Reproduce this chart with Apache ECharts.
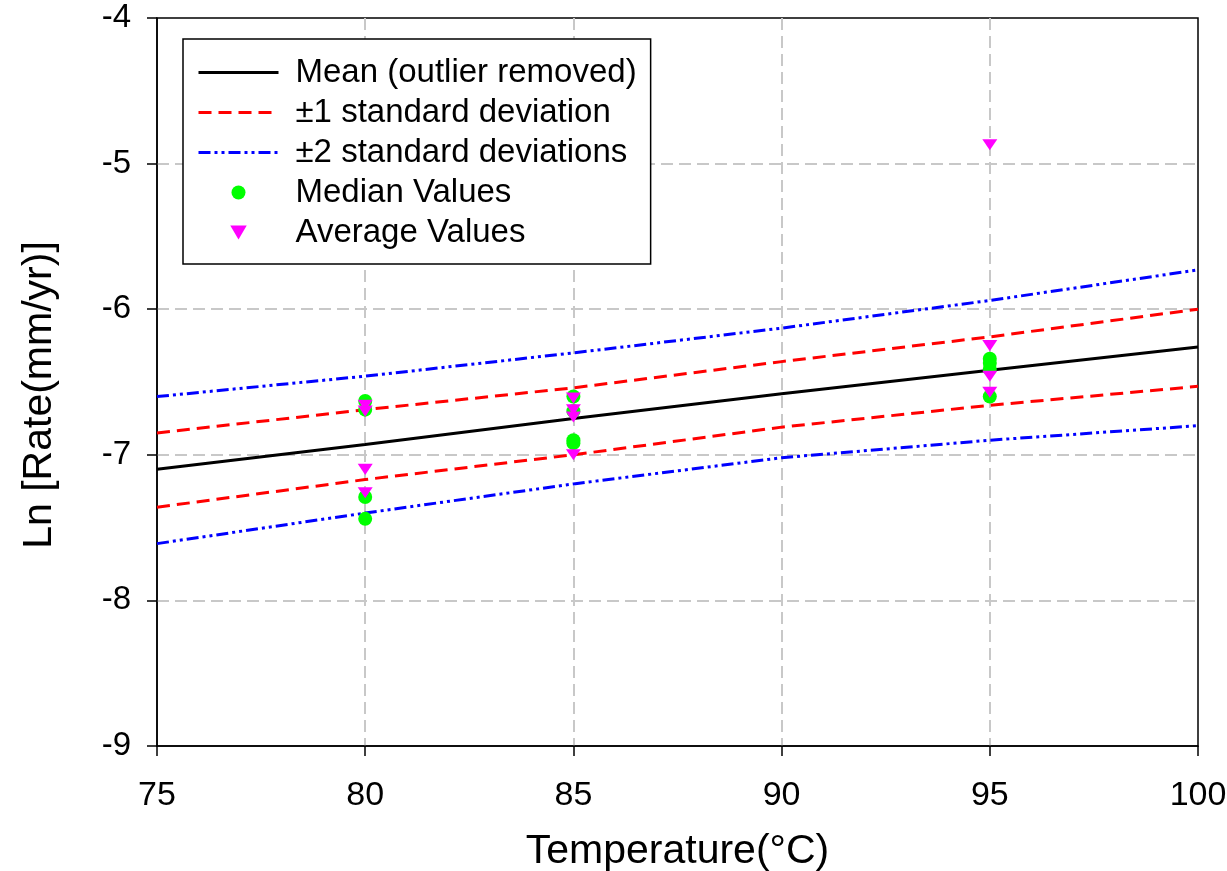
<!DOCTYPE html>
<html>
<head>
<meta charset="utf-8">
<script src="https://cdn.jsdelivr.net/npm/echarts@6/dist/echarts.min.js"></script>
<style>
html,body{margin:0;padding:0;background:#fff;}
#chart{width:1227px;height:871px;}
</style>
</head>
<body>
<div id="chart"></div>
<script>
// Fitted curves
const lineTemps = [75, 80, 85, 90, 95, 100];
const meanVals   = [-7.10, -6.93, -6.75, -6.58, -6.42, -6.26];
const plus1Vals  = [-6.85, -6.69, -6.54, -6.36, -6.19, -6.00];
const minus1Vals = [-7.36, -7.17, -7.00, -6.81, -6.66, -6.53];
const plus2Vals  = [-6.60, -6.46, -6.30, -6.13, -5.94, -5.73];
const minus2Vals = [-7.61, -7.40, -7.20, -7.02, -6.90, -6.80];

// Scatter points
const medianTemps = [80, 80, 80, 80, 85, 85, 85, 85, 95, 95, 95, 95];
const medianVals  = [-6.63, -6.69, -7.29, -7.44, -6.60, -6.70, -6.90, -6.92, -6.34, -6.37, -6.41, -6.60];
const averageTemps = [80, 80, 80, 80, 85, 85, 85, 85, 95, 95, 95, 95];
const averageVals  = [-6.66, -6.70, -7.10, -7.26, -6.61, -6.69, -6.74, -7.00, -4.87, -6.25, -6.46, -6.57];

// Axis ticks
const xTicks = [75, 80, 85, 90, 95, 100];
const yTicks = [-9, -8, -7, -6, -5, -4];

const legendNames = ['Mean (outlier removed)', '±1 standard deviation', '±2 standard deviations', 'Median Values', 'Average Values'];

const FONT = '"Liberation Sans", Arial, Helvetica, sans-serif';
const pair = (xs, ys) => xs.map((x, i) => [x, ys[i]]);
const downTri = 'path://M0,0L20,0L10,17Z';

const lineSeries = (name, vals, color, type) => ({
  name: name,
  type: 'line',
  data: pair(lineTemps, vals),
  symbol: 'none',
  showSymbol: false,
  smooth: false,
  lineStyle: { color: color, width: 3, type: type },
  itemStyle: { color: color },
  z: 2
});

const chart = echarts.init(document.getElementById('chart'), null, { renderer: 'canvas' });
chart.setOption({
  animation: false,
  backgroundColor: '#fff',
  grid: {
    left: 157, right: 29, top: 18, bottom: 125,
    outerBoundsMode: 'none',
    containLabel: false,
    show: true, borderColor: '#000', borderWidth: 1.5, backgroundColor: 'transparent'
  },
  legend: {
    orient: 'vertical',
    left: 183, top: 39,
    padding: [17, 14, 15, 14],
    itemGap: 7,
    itemWidth: 80,
    itemHeight: 14,
    borderColor: '#000',
    borderWidth: 1.5,
    backgroundColor: '#fff',
    symbolKeepAspect: true,
    lineStyle: { width: 3 },
    textStyle: { fontFamily: FONT, fontSize: 33, color: '#000', lineHeight: 32, padding: [0, 0, 0, 12] },
    data: [
      { name: legendNames[0], itemStyle: { opacity: 0 } },
      { name: legendNames[1], itemStyle: { opacity: 0 } },
      { name: legendNames[2], itemStyle: { opacity: 0 } },
      { name: legendNames[3] },
      { name: legendNames[4] }
    ]
  },
  xAxis: {
    type: 'value', min: xTicks[0], max: xTicks[xTicks.length - 1], interval: 5,
    name: 'Temperature(°C)', nameLocation: 'middle', nameGap: 85,
    nameTextStyle: { fontFamily: FONT, fontSize: 41, color: '#000' },
    axisLine: { show: true, lineStyle: { color: '#000', width: 1.5 } },
    axisTick: { show: true, inside: false, length: 10, lineStyle: { color: '#000', width: 1.5 } },
    axisLabel: { fontFamily: FONT, fontSize: 34, color: '#000', margin: 33 },
    splitLine: { show: true, showMinLine: false, showMaxLine: false, lineStyle: { color: '#c8c8c8', width: 2, type: [12, 6] } }
  },
  yAxis: {
    type: 'value', min: yTicks[0], max: yTicks[yTicks.length - 1], interval: 1,
    name: 'Ln [Rate(mm/yr)]', nameLocation: 'middle', nameGap: 97,
    nameTextStyle: { fontFamily: FONT, fontSize: 41, color: '#000', padding: [0, 26, 0, 0] },
    axisLine: { show: true, lineStyle: { color: '#000', width: 1.5 } },
    axisTick: { show: true, inside: false, length: 10, lineStyle: { color: '#000', width: 1.5 } },
    axisLabel: { fontFamily: FONT, fontSize: 33, color: '#000', margin: 26 },
    splitLine: { show: true, showMinLine: false, showMaxLine: false, lineStyle: { color: '#c8c8c8', width: 2, type: [12, 6] } }
  },
  series: [
    lineSeries(legendNames[0], meanVals, '#000000', 'solid'),
    lineSeries(legendNames[1], plus1Vals, '#ff0000', [13, 7]),
    lineSeries(legendNames[1], minus1Vals, '#ff0000', [13, 7]),
    lineSeries(legendNames[2], plus2Vals, '#0000ff', [12, 4, 3, 4, 3, 4]),
    lineSeries(legendNames[2], minus2Vals, '#0000ff', [12, 4, 3, 4, 3, 4]),
    {
      name: legendNames[3], type: 'scatter',
      data: pair(medianTemps, medianVals),
      symbol: 'circle', symbolSize: 14,
      itemStyle: { color: '#00ff00', opacity: 1 },
      z: 3
    },
    {
      name: legendNames[4], type: 'scatter',
      data: pair(averageTemps, averageVals),
      symbol: downTri, symbolSize: [15, 13], symbolKeepAspect: true,
      itemStyle: { color: '#ff00ff', opacity: 1 },
      z: 4
    }
  ]
});
</script>
</body>
</html>
